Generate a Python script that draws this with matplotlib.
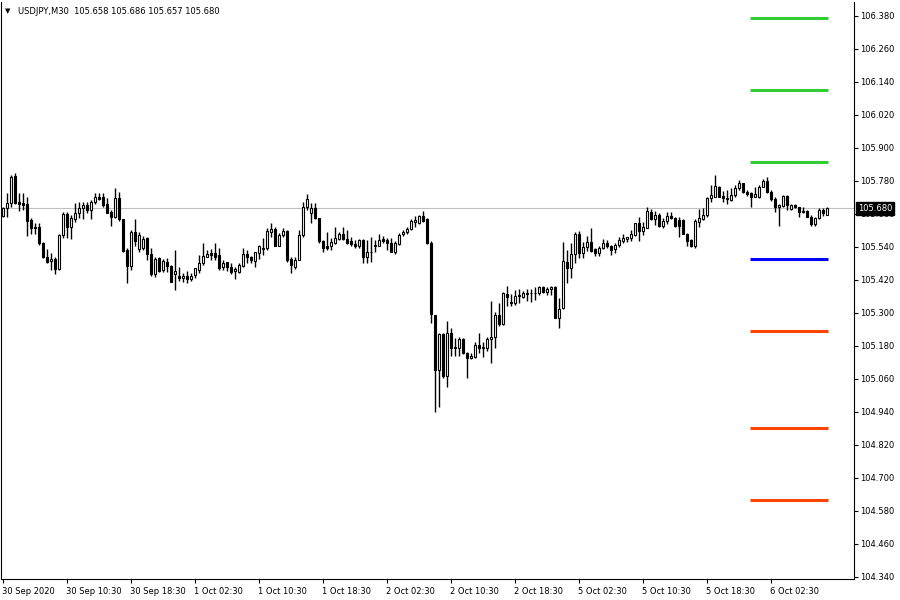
import matplotlib
matplotlib.use('Agg')
import matplotlib.pyplot as plt
from matplotlib.patches import Rectangle
import matplotlib.transforms as mtransforms

# ---------------- data (USDJPY, M30) ----------------
open_ = [
    105.652, 105.680, 105.701, 105.798, 105.704, 105.701, 105.698, 105.638, 105.608, 105.614,
    105.555, 105.504, 105.489, 105.496, 105.460, 105.583, 105.660, 105.614, 105.641, 105.662,
    105.683, 105.692, 105.674, 105.704, 105.720, 105.720, 105.698, 105.668, 105.650, 105.717,
    105.640, 105.529, 105.472, 105.595, 105.531, 105.535, 105.571, 105.514, 105.440, 105.501,
    105.456, 105.486, 105.471, 105.440, 105.434, 105.429, 105.435, 105.422, 105.438, 105.456,
    105.480, 105.504, 105.517, 105.517, 105.511, 105.466, 105.486, 105.466, 105.454, 105.448,
    105.471, 105.514, 105.503, 105.489, 105.517, 105.533, 105.536, 105.596, 105.606, 105.545,
    105.582, 105.599, 105.497, 105.469, 105.493, 105.582, 105.685, 105.663, 105.681, 105.645,
    105.560, 105.542, 105.542, 105.556, 105.569, 105.588, 105.568, 105.562, 105.551, 105.542,
    105.566, 105.502, 105.521, 105.542, 105.544, 105.568, 105.566, 105.556, 105.523, 105.551,
    105.586, 105.594, 105.605, 105.632, 105.626, 105.653, 105.642, 105.556, 105.293, 105.093,
    105.223, 105.072, 105.229, 105.178, 105.174, 105.204, 105.153, 105.135, 105.139, 105.184,
    105.174, 105.172, 105.204, 105.212, 105.293, 105.259, 105.369, 105.335, 105.335, 105.362,
    105.359, 105.369, 105.372, 105.374, 105.374, 105.393, 105.378, 105.386, 105.395, 105.280,
    105.317, 105.484, 105.462, 105.513, 105.587, 105.519, 105.541, 105.559, 105.531, 105.519,
    105.535, 105.553, 105.543, 105.531, 105.547, 105.563, 105.570, 105.571, 105.583, 105.626,
    105.599, 105.610, 105.668, 105.641, 105.656, 105.617, 105.634, 105.652, 105.644, 105.638,
    105.638, 105.589, 105.565, 105.544, 105.632, 105.641, 105.658, 105.719, 105.723, 105.759,
    105.725, 105.717, 105.711, 105.729, 105.755, 105.771, 105.741, 105.735, 105.723, 105.720,
    105.759, 105.781, 105.741, 105.714, 105.684, 105.690, 105.725, 105.677, 105.692, 105.684,
    105.671, 105.671, 105.650, 105.622, 105.644, 105.674, 105.658,
]
high = [
    105.686, 105.737, 105.801, 105.808, 105.735, 105.735, 105.720, 105.644, 105.626, 105.626,
    105.559, 105.531, 105.517, 105.504, 105.587, 105.668, 105.668, 105.656, 105.701, 105.704,
    105.704, 105.704, 105.711, 105.738, 105.737, 105.735, 105.717, 105.674, 105.753, 105.741,
    105.640, 105.535, 105.601, 105.640, 105.595, 105.581, 105.577, 105.538, 105.504, 105.502,
    105.495, 105.501, 105.474, 105.529, 105.468, 105.444, 105.453, 105.446, 105.462, 105.511,
    105.553, 105.529, 105.531, 105.553, 105.535, 105.491, 105.486, 105.481, 105.469, 105.481,
    105.536, 105.529, 105.508, 105.523, 105.548, 105.572, 105.608, 105.629, 105.611, 105.590,
    105.608, 105.602, 105.505, 105.505, 105.602, 105.702, 105.733, 105.699, 105.699, 105.647,
    105.566, 105.596, 105.572, 105.614, 105.596, 105.614, 105.602, 105.578, 105.566, 105.569,
    105.569, 105.566, 105.576, 105.566, 105.588, 105.580, 105.572, 105.572, 105.560, 105.590,
    105.602, 105.614, 105.641, 105.653, 105.657, 105.671, 105.645, 105.562, 105.293, 105.226,
    105.226, 105.272, 105.244, 105.208, 105.214, 105.208, 105.159, 105.156, 105.196, 105.229,
    105.196, 105.214, 105.345, 105.305, 105.338, 105.378, 105.398, 105.369, 105.384, 105.386,
    105.381, 105.386, 105.386, 105.393, 105.398, 105.398, 105.393, 105.398, 105.399, 105.353,
    105.559, 105.529, 105.553, 105.595, 105.599, 105.559, 105.580, 105.608, 105.538, 105.543,
    105.568, 105.565, 105.547, 105.555, 105.575, 105.587, 105.577, 105.601, 105.628, 105.648,
    105.632, 105.684, 105.678, 105.671, 105.662, 105.644, 105.668, 105.668, 105.650, 105.648,
    105.640, 105.592, 105.568, 105.640, 105.677, 105.680, 105.723, 105.765, 105.801, 105.761,
    105.744, 105.747, 105.753, 105.765, 105.783, 105.774, 105.747, 105.741, 105.759, 105.765,
    105.789, 105.793, 105.747, 105.720, 105.698, 105.729, 105.729, 105.698, 105.698, 105.686,
    105.686, 105.674, 105.656, 105.650, 105.680, 105.680, 105.686,
]
low = [
    105.650, 105.650, 105.686, 105.698, 105.672, 105.674, 105.580, 105.589, 105.589, 105.547,
    105.501, 105.480, 105.456, 105.440, 105.456, 105.571, 105.571, 105.569, 105.632, 105.644,
    105.641, 105.662, 105.641, 105.698, 105.711, 105.686, 105.662, 105.616, 105.646, 105.634,
    105.523, 105.408, 105.456, 105.544, 105.523, 105.529, 105.492, 105.434, 105.432, 105.448,
    105.450, 105.450, 105.414, 105.383, 105.417, 105.414, 105.408, 105.417, 105.426, 105.444,
    105.474, 105.502, 105.492, 105.492, 105.456, 105.457, 105.451, 105.442, 105.423, 105.445,
    105.466, 105.481, 105.483, 105.466, 105.497, 105.511, 105.529, 105.578, 105.545, 105.542,
    105.578, 105.487, 105.447, 105.459, 105.491, 105.576, 105.675, 105.629, 105.641, 105.554,
    105.521, 105.529, 105.529, 105.551, 105.566, 105.566, 105.551, 105.542, 105.536, 105.536,
    105.483, 105.483, 105.487, 105.523, 105.542, 105.554, 105.529, 105.520, 105.515, 105.548,
    105.580, 105.588, 105.602, 105.611, 105.624, 105.632, 105.551, 105.263, 104.941, 104.957,
    105.063, 105.032, 105.144, 105.144, 105.144, 105.151, 105.065, 105.132, 105.135, 105.156,
    105.141, 105.163, 105.119, 105.172, 105.253, 105.256, 105.326, 105.326, 105.329, 105.335,
    105.353, 105.345, 105.341, 105.347, 105.366, 105.372, 105.366, 105.365, 105.280, 105.244,
    105.313, 105.408, 105.429, 105.480, 105.501, 105.501, 105.526, 105.523, 105.508, 105.507,
    105.531, 105.535, 105.511, 105.519, 105.541, 105.555, 105.559, 105.563, 105.580, 105.563,
    105.583, 105.608, 105.638, 105.620, 105.614, 105.608, 105.623, 105.640, 105.614, 105.577,
    105.587, 105.543, 105.541, 105.538, 105.614, 105.638, 105.648, 105.704, 105.720, 105.720,
    105.704, 105.698, 105.708, 105.723, 105.747, 105.735, 105.725, 105.684, 105.720, 105.717,
    105.757, 105.738, 105.708, 105.668, 105.617, 105.684, 105.674, 105.674, 105.680, 105.650,
    105.662, 105.648, 105.617, 105.617, 105.641, 105.652, 105.657,
]
close = [
    105.680, 105.701, 105.795, 105.701, 105.698, 105.692, 105.635, 105.608, 105.614, 105.553,
    105.502, 105.484, 105.496, 105.460, 105.583, 105.660, 105.611, 105.644, 105.662, 105.680,
    105.692, 105.674, 105.704, 105.720, 105.714, 105.692, 105.664, 105.648, 105.717, 105.640,
    105.526, 105.472, 105.595, 105.563, 105.583, 105.570, 105.514, 105.441, 105.498, 105.452,
    105.489, 105.471, 105.414, 105.452, 105.426, 105.434, 105.423, 105.434, 105.462, 105.480,
    105.507, 105.514, 105.512, 105.504, 105.462, 105.483, 105.466, 105.448, 105.459, 105.475,
    105.514, 105.503, 105.491, 105.520, 105.544, 105.538, 105.599, 105.606, 105.545, 105.584,
    105.599, 105.493, 105.475, 105.493, 105.584, 105.685, 105.715, 105.681, 105.645, 105.560,
    105.538, 105.536, 105.557, 105.572, 105.588, 105.568, 105.556, 105.551, 105.542, 105.566,
    105.502, 105.523, 105.523, 105.548, 105.566, 105.563, 105.554, 105.523, 105.554, 105.584,
    105.596, 105.606, 105.635, 105.639, 105.653, 105.636, 105.554, 105.295, 105.093, 105.223,
    105.072, 105.226, 105.174, 105.174, 105.204, 105.153, 105.135, 105.144, 105.184, 105.172,
    105.178, 105.204, 105.214, 105.293, 105.259, 105.372, 105.359, 105.341, 105.363, 105.366,
    105.372, 105.372, 105.374, 105.372, 105.393, 105.378, 105.387, 105.395, 105.280, 105.313,
    105.489, 105.462, 105.513, 105.587, 105.519, 105.541, 105.559, 105.526, 105.519, 105.535,
    105.553, 105.543, 105.529, 105.547, 105.565, 105.571, 105.575, 105.587, 105.626, 105.599,
    105.611, 105.671, 105.641, 105.656, 105.616, 105.634, 105.652, 105.644, 105.617, 105.617,
    105.589, 105.563, 105.544, 105.634, 105.644, 105.658, 105.717, 105.729, 105.761, 105.723,
    105.717, 105.713, 105.729, 105.753, 105.771, 105.741, 105.731, 105.723, 105.731, 105.759,
    105.781, 105.741, 105.714, 105.684, 105.692, 105.725, 105.692, 105.692, 105.684, 105.666,
    105.666, 105.650, 105.622, 105.644, 105.674, 105.662, 105.680,
]

x_tick_bars = [0, 16, 32, 48, 64, 80, 96, 112, 128, 144, 160, 176, 192]
x_tick_labels = ["30 Sep 2020", "30 Sep 10:30", "30 Sep 18:30", "1 Oct 02:30",
                 "1 Oct 10:30", "1 Oct 18:30", "2 Oct 02:30", "2 Oct 10:30",
                 "2 Oct 18:30", "5 Oct 02:30", "5 Oct 10:30", "5 Oct 18:30",
                 "6 Oct 02:30"]
y_ticks = [104.340, 104.460, 104.580, 104.700, 104.820, 104.940, 105.060, 105.180,
           105.300, 105.420, 105.540, 105.660, 105.780, 105.900, 106.020, 106.140,
           106.260, 106.380]

levels_green = [106.372, 106.111, 105.848]
levels_blue = [105.495]
levels_red = [105.233, 104.881, 104.619]
level_start_bar, level_end_bar = 186.8, 206.3
last_price = 105.680
title = "USDJPY,M30  105.658 105.686 105.657 105.680"

# ---------------- figure ----------------
plt.rcParams['font.family'] = ['DejaVu Sans']
fig = plt.figure(figsize=(9, 6), dpi=100)
fig.patch.set_facecolor('white')
ax = fig.add_axes([1/900, 21/600, 853/900, 577/600])
ax.set_facecolor('white')

n = len(open_)
ax.vlines(range(n), low, high, color='black', lw=1.0, zorder=2)
bw = 0.55
for i in range(n):
    o, c = open_[i], close[i]
    bull = c >= o
    bottom = min(o, c)
    h = max(abs(c - o), 0.0008)
    ax.add_patch(Rectangle((i - bw / 2, bottom), bw, h,
                           facecolor='white' if bull else 'black',
                           edgecolor='black', lw=0.8, zorder=3))

# current price line
ax.axhline(last_price, color='#c0c0c0', lw=0.8, zorder=1)

# level lines
for lv in levels_green:
    ax.hlines(lv, level_start_bar, level_end_bar, color='#32cd32', lw=2.2, zorder=4)
for lv in levels_blue:
    ax.hlines(lv, level_start_bar, level_end_bar, color='#0000ff', lw=2.2, zorder=4)
for lv in levels_red:
    ax.hlines(lv, level_start_bar, level_end_bar, color='#ff4500', lw=2.2, zorder=4)

ax.set_xlim(-0.5, 212.75)
ax.set_ylim(104.3327, 106.4309)

ax.yaxis.tick_right()
ax.set_yticks(y_ticks)
ax.set_yticklabels([f"{v:.3f}" for v in y_ticks])
ax.set_xticks(x_tick_bars)
ax.set_xticklabels(x_tick_labels, ha='left')
ax.tick_params(axis='y', direction='out', length=3, width=0.8, pad=1.5,
               labelsize=6, colors='black')
ax.tick_params(axis='x', direction='out', length=3, width=0.8, pad=2.5,
               labelsize=6, colors='black')
for lab in ax.get_xticklabels():
    lab.set_x(0)
offset = mtransforms.ScaledTranslation(-1/100, 0, fig.dpi_scale_trans)
for lab in ax.get_xticklabels():
    lab.set_transform(lab.get_transform() + offset)

ax.spines['top'].set_visible(False)
for s in ['left', 'right', 'bottom']:
    ax.spines[s].set_color('black')
    ax.spines[s].set_linewidth(0.8)

# last price box
trans = mtransforms.blended_transform_factory(ax.transAxes, ax.transData)
ax.text(1.0 + 4/853, last_price, f"{last_price:.3f}", transform=trans,
        ha='left', va='center', fontsize=6, color='white', zorder=20, clip_on=False,
        bbox=dict(boxstyle='square,pad=0.2', facecolor='black', edgecolor='black'))

# title
fig.text(18/900, 1 - 11/600, title, fontsize=6, va='center', ha='left', color='black')
fig.text(8/900, 1 - 11/600, '\u25BC', fontsize=5, va='center', ha='center', color='black')

fig.savefig('out.png', dpi=100, facecolor='white')
